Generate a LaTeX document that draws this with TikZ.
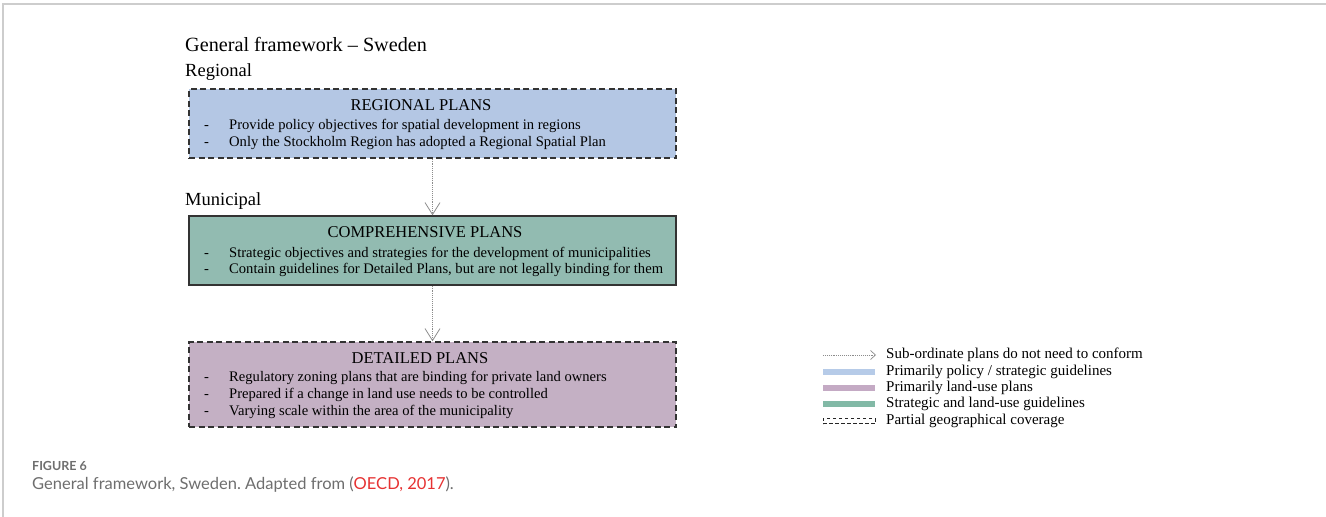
\documentclass[tikz,border=0pt]{standalone}
\usepackage{fontspec}
\setmainfont{Liberation Serif}
\newfontfamily\capfont{Lato}
\usetikzlibrary{arrows.meta}
\definecolor{regblue}{RGB}{180,199,228}
\definecolor{compteal}{RGB}{146,187,177}
\definecolor{detmauve}{RGB}{196,176,196}
\definecolor{legblue}{RGB}{182,203,232}
\definecolor{legmauve}{RGB}{196,170,196}
\definecolor{legteal}{RGB}{130,185,166}
\definecolor{framegray}{RGB}{205,205,205}
\definecolor{capgray}{RGB}{110,110,110}
\definecolor{capred}{RGB}{230,50,50}
\tikzset{
  x=1pt, y=-1pt,
  planbox/.style={draw=black!80, line width=1.4pt, minimum width=487pt, inner sep=0pt},
  partial/.style={dash pattern=on 6pt off 3.5pt},
  boxtitle/.style={anchor=base, inner sep=0pt, font=\fontsize{16.5}{19}\selectfont},
  bodyline/.style={anchor=base west, inner sep=0pt, font=\fontsize{14.6}{17}\selectfont},
  level/.style={anchor=base west, inner sep=0pt, font=\fontsize{18.5}{22}\selectfont},
  legtext/.style={anchor=west, inner sep=0pt, font=\fontsize{15}{17}\selectfont},
  subarrow/.style={draw=black!45, line width=0.9pt, densely dotted, -{Straight Barb[length=12pt,width=15pt,line width=0.8pt,sep=0pt]}},
  legbar/.style={inner sep=0pt, minimum width=52pt, minimum height=6pt}
}
\begin{document}
\frenchspacing
\begin{tikzpicture}
\useasboundingbox (0,0) rectangle (1326,517);
% page frame
\draw[framegray, line width=2pt] (3,517) -- (3,4) -- (1326,4);

% headings
\node[anchor=base west, inner sep=0pt, font=\fontsize{20.2}{24}\selectfont] (title) at (185,51) {General framework -- Sweden};
\node[level] (regional) at (185,76) {Regional};
\node[level] (municipal) at (185,205) {Municipal};

% boxes
\node[planbox, partial, fill=regblue, minimum height=69pt] (reg) at (432.5,123.5) {};
\node[planbox, fill=compteal, minimum height=69pt] (comp) at (432.5,250.5) {};
\node[planbox, partial, fill=detmauve, minimum height=85pt] (det) at (432.5,384.5) {};

% regional text
\node[boxtitle] (regt) at (421,110) {REGIONAL PLANS};
\node[bodyline] (regd1) at (204,129.5) {-};
\node[bodyline] (regl1) at (229,129.5) {Provide policy objectives for spatial development in regions};
\node[bodyline] (regd2) at (204,146.5) {-};
\node[bodyline] (regl2) at (229,146.5) {Only the Stockholm Region has adopted a Regional Spatial Plan};

% comprehensive text
\node[boxtitle] (compt) at (425,237) {COMPREHENSIVE PLANS};
\node[bodyline] (compd1) at (204,257.5) {-};
\node[bodyline] (compl1) at (229,257.5) {Strategic objectives and strategies for the development of municipalities};
\node[bodyline] (compd2) at (204,273.5) {-};
\node[bodyline] (compl2) at (229,273.5) {Contain guidelines for Detailed Plans, but are not legally binding for them};

% detailed text
\node[boxtitle] (dett) at (420,363) {DETAILED PLANS};
\node[bodyline] (detd1) at (204,381.5) {-};
\node[bodyline] (detl1) at (229,381.5) {Regulatory zoning plans that are binding for private land owners};
\node[bodyline] (detd2) at (204,398.5) {-};
\node[bodyline] (detl2) at (229,398.5) {Prepared if a change in land use needs to be controlled};
\node[bodyline] (detd3) at (204,415.5) {-};
\node[bodyline] (detl3) at (229,415.5) {Varying scale within the area of the municipality};

% connectors
\draw[subarrow] (reg.south) -- (comp.north);
\draw[subarrow] (comp.south) -- (det.north);

% legend
\coordinate (la1) at (823,355);
\coordinate (la2) at (876,355);
\draw[subarrow, -{Straight Barb[length=5pt,width=9pt,line width=0.7pt,sep=0pt]}] (la1) -- (la2);
\node[legtext] (lt1) at (886,355) {Sub-ordinate plans do not need to conform};
\node[legbar, fill=legblue] (lb2) at (849,371.5) {};
\node[legtext] (lt2) at (886,371.5) {Primarily policy / strategic guidelines};
\node[legbar, fill=legmauve] (lb3) at (849,387.5) {};
\node[legtext] (lt3) at (886,387.5) {Primarily land-use plans};
\node[legbar, fill=legteal] (lb4) at (849,404) {};
\node[legtext] (lt4) at (886,404) {Strategic and land-use guidelines};
\node[legbar, draw=black!85, line width=1pt, dash pattern=on 3.5pt off 2.5pt, minimum height=5pt] (lb5) at (849,421) {};
\node[legtext] (lt5) at (886,421) {Partial geographical coverage};

% caption
\node[anchor=base west, inner sep=0pt, font=\capfont\fontsize{12.5}{15}\selectfont\bfseries, text=capgray] (figno) at (32,470) {FIGURE 6};
\node[anchor=base west, inner sep=0pt, font=\capfont\fontsize{16.5}{20}\selectfont, text=capgray] (cap) at (32,489) {General framework, Sweden. Adapted from (\textcolor{capred}{OECD, 2017}).};
\end{tikzpicture}
\end{document}
